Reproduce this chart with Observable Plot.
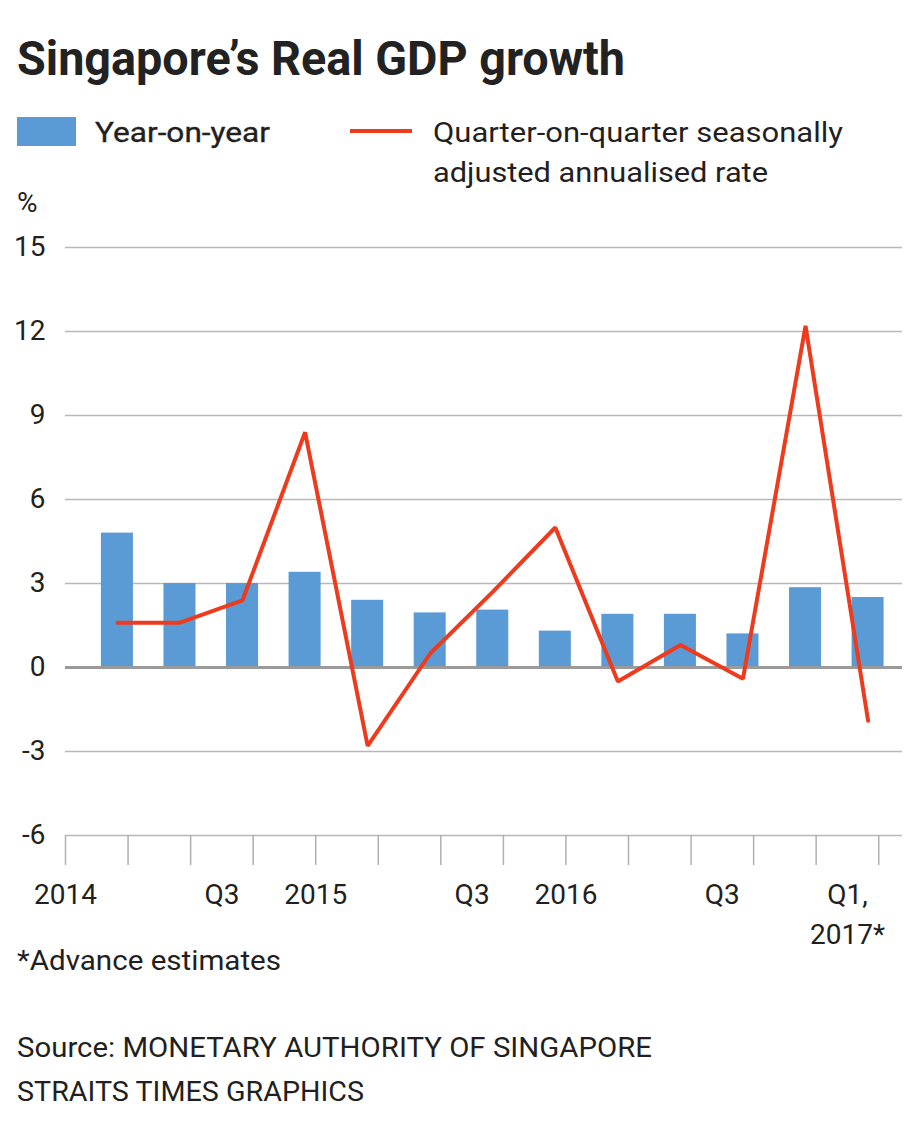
<!DOCTYPE html>
<html><head><meta charset="utf-8">
<script src="https://cdn.jsdelivr.net/npm/d3@7"></script>
<script src="https://cdn.jsdelivr.net/npm/@observablehq/plot@0.6"></script>
<style>
html,body{margin:0;padding:0;background:#fff;}
body{width:920px;height:1136px;position:relative;overflow:hidden;font-family:Roboto,"Noto Sans",sans-serif;color:#231f20;}
.t{position:absolute;white-space:nowrap;line-height:1;transform-origin:0 50%;}
#chart{position:absolute;left:0;top:225px;}
</style></head><body>
<div id="chart"></div>
<div class="t" id="title" style="left:17px;top:34px;font-size:49px;font-weight:700;color:#222;">Singapore’s Real GDP growth</div>
<div style="position:absolute;left:17px;top:117px;width:59px;height:29px;background:#5b9bd5"></div>
<div class="t" id="lg1" style="left:95px;top:119px;font-size:28px;font-weight:400;-webkit-text-stroke:0.35px #231f20;">Year-on-year</div>
<div style="position:absolute;left:350px;top:129px;width:62px;height:4px;background:#ee3b1d"></div>
<div class="t" id="lg2a" style="left:433px;top:119px;font-size:28px;">Quarter-on-quarter seasonally</div>
<div class="t" id="lg2b" style="left:433px;top:159px;font-size:28px;">adjusted annualised rate</div>
<div class="t" id="pct" style="left:17px;top:189px;font-size:28px;">%</div>
<div class="t" id="note" style="left:17px;top:947px;font-size:28px;">*Advance estimates</div>
<div class="t" id="src" style="left:17px;top:1034px;font-size:28px;">Source: MONETARY AUTHORITY OF SINGAPORE</div>
<div class="t" id="credit" style="left:17px;top:1078px;font-size:28px;">STRAITS TIMES GRAPHICS</div>
<script>
// ---- data ----
const quarters = ["2014 Q1","2014 Q2","2014 Q3","2014 Q4","2015 Q1","2015 Q2","2015 Q3","2015 Q4","2016 Q1","2016 Q2","2016 Q3","2016 Q4","2017 Q1"];
const yoy = [4.8, 3.0, 3.0, 3.4, 2.4, 1.95, 2.05, 1.3, 1.9, 1.9, 1.2, 2.85, 2.5];
const qoq = [1.6, 1.6, 2.4, 8.4, -2.8, 0.5, 2.7, 5.0, -0.5, 0.8, -0.4, 12.2, -1.9];
const yTicks = [-6, -3, 0, 3, 6, 9, 12, 15];
const xLabelQuarters = ["2014 Q1","2014 Q3","2015 Q1","2015 Q3","2016 Q1","2016 Q3","2017 Q1"];
const xLabels = ["2014","Q3","2015","Q3","2016","Q3","Q1,\n2017*"];

// ---- build ----
const data = quarters.map((q, i) => ({q, i, yoy: yoy[i], qoq: qoq[i]}));
// year labels sit on the quarter boundary, quarter labels in the middle of the interval
const labelData = xLabels.map((label, k) => ({
  label,
  pos: quarters.indexOf(xLabelQuarters[k]) + (label.startsWith("Q") ? 0.5 : 0)
}));
const BAR_CENTER = 0.83; // bars sit right of interval centre in the original
const BAR_HALF = 0.256;

const chart = Plot.plot({
  width: 920, height: 745,
  marginTop: 22, marginBottom: 135, marginLeft: 65, marginRight: 18,
  style: {fontFamily: "Roboto, sans-serif", fontSize: "28px", color: "#231f20", background: "transparent", overflow: "visible"},
  x: {domain: [0, 13.38], axis: null},
  y: {domain: [-6, 15], axis: null},
  marks: [
    Plot.ruleY(yTicks.filter(d => d !== 0), {stroke: "#b8b8b8", strokeWidth: 1.5}),
    Plot.rectY(data, {x1: d => d.i + BAR_CENTER - BAR_HALF, x2: d => d.i + BAR_CENTER + BAR_HALF, y1: 0, y2: "yoy", fill: "#5b9bd5"}),
    Plot.ruleY([0], {stroke: "#9a9a9a", strokeWidth: 3}),
    Plot.line(data, {x: d => d.i + BAR_CENTER, y: "qoq", stroke: "#ee3b1d", strokeWidth: 4, strokeLinejoin: "miter"}),
    Plot.axisY({ticks: yTicks, tickSize: 0, tickPadding: 20, tickFormat: d => String(d), fontSize: 28, label: null, anchor: "left"}),
    Plot.axisX({ticks: d3.range(quarters.length + 1), tickSize: 30, tickFormat: () => "", stroke: "#b0b0b0", strokeWidth: 1.5, label: null, anchor: "bottom"}),
    Plot.text(labelData, {x: "pos", text: "label", frameAnchor: "bottom", lineAnchor: "top", dy: 40, fontSize: 28, lineHeight: 1.43, textAnchor: "middle", fill: "#231f20"})
  ]
});
document.getElementById("chart").appendChild(chart);

// ---- fit header/footer text widths to the original's condensed face ----
const targets = {title: 608, lg1: 175, lg2a: 410, lg2b: 335, note: 264, src: 635, credit: 347};
function fit() {
  for (const [id, w] of Object.entries(targets)) {
    const el = document.getElementById(id);
    el.style.transform = "none";
    const cw = el.getBoundingClientRect().width;
    if (cw > 0) el.style.transform = `scaleX(${w / cw})`;
  }
}
fit();
if (document.fonts && document.fonts.ready) document.fonts.ready.then(fit);
</script>
</body></html>
